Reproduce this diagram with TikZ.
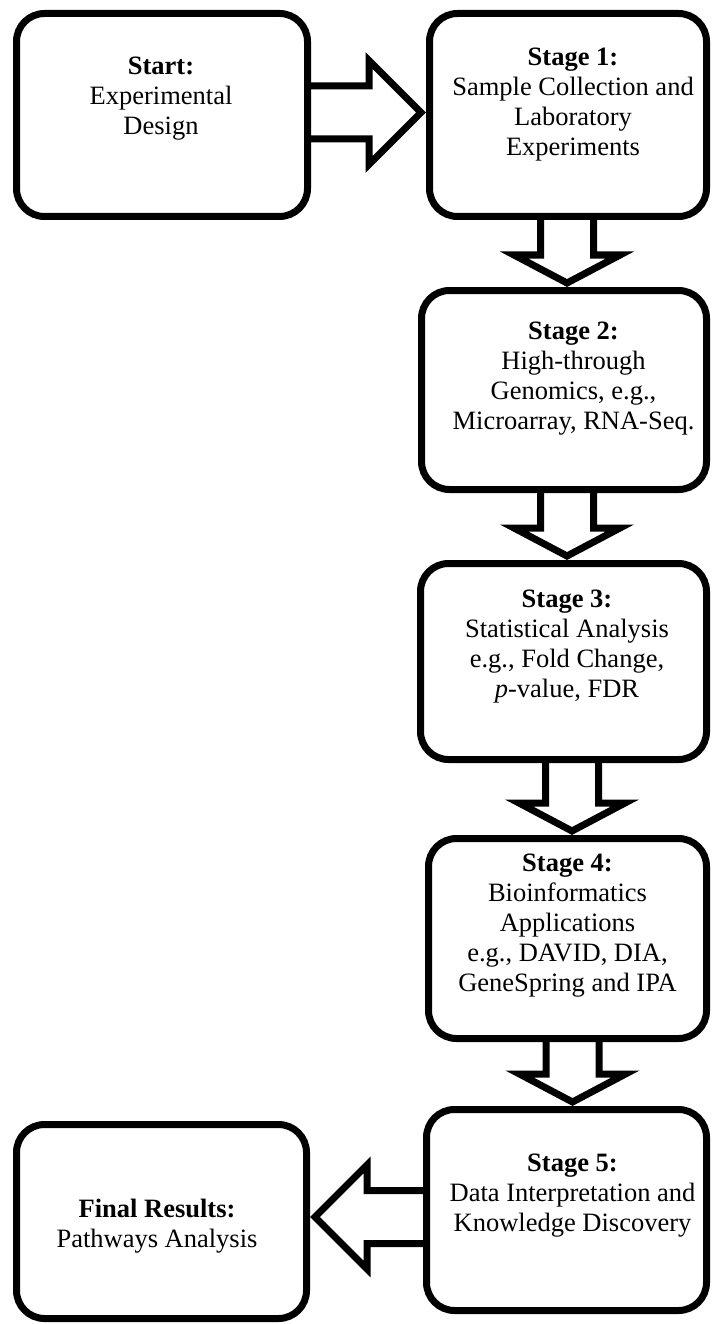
\documentclass[tikz,border=0pt]{standalone}
\usepackage{fontspec}
\setmainfont{Liberation Serif}
\usepackage{tikz}
\usetikzlibrary{calc}
\tikzstyle{stage}=[draw, line width=7pt, rounded corners=28pt,
                   inner sep=0pt, outer sep=3.5pt, fill=white]
\tikzstyle{txt}  =[align=center, inner sep=0pt,
                   font=\fontsize{26.5}{30}\selectfont]
\tikzstyle{bigarrow}=[line width=7pt, line join=miter]

\begin{document}
\begin{tikzpicture}[x=1pt,y=1pt]
    \useasboundingbox (0,0) rectangle (712,-1324);

    % boxes
    \draw (162,-115) node (s0) [stage, minimum width=291pt, minimum height=203pt] {};
    \draw (568,-115) node (s1) [stage, minimum width=277pt, minimum height=203pt] {};
    \draw (564,-390) node (s2) [stage, minimum width=285pt, minimum height=199pt] {};
    \draw (563.5,-661.5) node (s3) [stage, minimum width=286pt, minimum height=196pt] {};
    \draw (567.5,-938.5) node (s4) [stage, minimum width=278pt, minimum height=200pt] {};
    \draw (566.5,-1210) node (s5) [stage, minimum width=280pt, minimum height=201pt] {};
    \draw (161.5,-1221.5) node (s6) [stage, minimum width=290pt, minimum height=194pt] {};

    % texts
    \draw (161,-99) node (t0) [txt] {\textbf{Start:}\\ Experimental\\ Design};
    \draw (573,-105) node (t1) [txt] {\textbf{Stage 1:}\\ Sample Collection and\\ Laboratory\\ Experiments};
    \draw (573.5,-379) node (t2) [txt] {\textbf{Stage 2:}\\ High-through\\ Genomics, e.g.,\\ Microarray, RNA-Seq.};
    \draw (567,-646.5) node (t3) [txt] {\textbf{Stage 3:}\\ Statistical Analysis\\ e.g., Fold Change,\\ \textit{p}-value, FDR};
    \draw (567.5,-926) node (t4) [txt] {\textbf{Stage 4:}\\ Bioinformatics\\ Applications\\ e.g., DAVID, DIA,\\ GeneSpring and IPA};
    \draw (572.5,-1196) node (t5) [txt] {\textbf{Stage 5:}\\ Data Interpretation and\\ Knowledge Discovery};
    \draw (157,-1226) node (t6) [txt] {\textbf{Final Results:}\\ Pathways Analysis};

    % block arrows
    \draw [bigarrow] ($(s0.east)+(-3.5,29)$) -- ($(s1.west)+(-57,29)$)
        -- ($(s1.west)+(-57,54.5)$) -- ($(s1.west)+(-5,2.5)$) -- ($(s1.west)+(-57,-49.5)$)
        -- ($(s1.west)+(-57,-24)$) -- ($(s0.east)+(-3.5,-24)$);

    \foreach \i/\j/\s in {s1/s2/3, s2/s3/3.5, s3/s4/4.5, s4/s5/6}
        \draw [bigarrow] ($(\i.south -| \j.north)+(\s-26.5,3.5)$) -- ($(\j.north)+(\s-26.5,32)$)
            -- ($(\j.north)+(\s-53,32)$) -- ($(\j.north)+(\s,4)$) -- ($(\j.north)+(\s+53,32)$)
            -- ($(\j.north)+(\s+26.5,32)$) -- ($(\i.south -| \j.north)+(\s+26.5,3.5)$);

    \draw [bigarrow] ($(s5.west |- s6.east)+(3.5,31)$) -- ($(s6.east)+(57,31)$)
        -- ($(s6.east)+(57,56.5)$) -- ($(s6.east)+(5,4.5)$) -- ($(s6.east)+(57,-47.5)$)
        -- ($(s6.east)+(57,-22)$) -- ($(s5.west |- s6.east)+(3.5,-22)$);

\end{tikzpicture}
\end{document}
